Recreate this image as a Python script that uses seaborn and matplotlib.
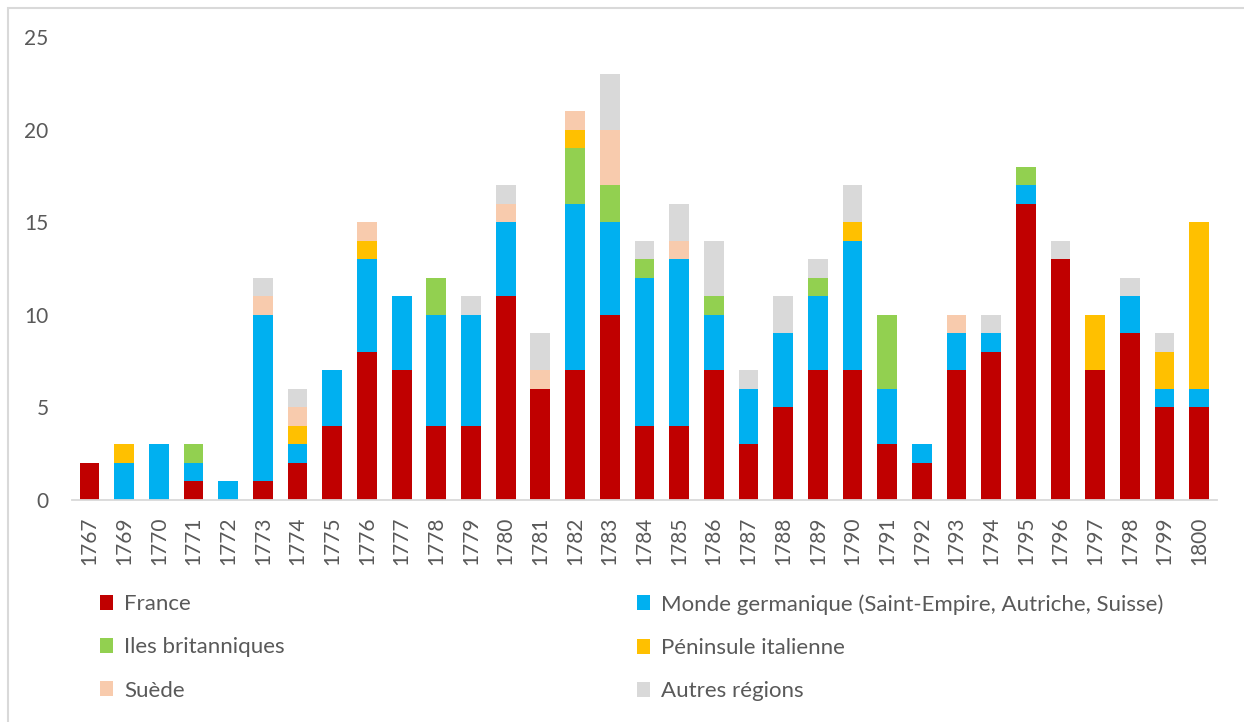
import matplotlib
matplotlib.use("Agg")
import matplotlib.pyplot as plt
from matplotlib.patches import Patch, Rectangle
import seaborn as sns
import pandas as pd
import numpy as np

# Data
years = ["1767", "1769", "1770", "1771", "1772", "1773", "1774", "1775", "1776",
         "1777", "1778", "1779", "1780", "1781", "1782", "1783", "1784", "1785",
         "1786", "1787", "1788", "1789", "1790", "1791", "1792", "1793", "1794",
         "1795", "1796", "1797", "1798", "1799", "1800"]
france      = [2, 0, 0, 1, 0, 1, 2, 4, 8, 7, 4, 4, 11, 6, 7, 10, 4, 4, 7, 3, 5, 7, 7, 3, 2, 7, 8, 16, 13, 7, 9, 5, 5]
germanique  = [0, 2, 3, 1, 1, 9, 1, 3, 5, 4, 6, 6, 4, 0, 9, 5, 8, 9, 3, 3, 4, 4, 7, 3, 1, 2, 1, 1, 0, 0, 2, 1, 1]
britanniques = [0, 0, 0, 1, 0, 0, 0, 0, 0, 0, 2, 0, 0, 0, 3, 2, 1, 0, 1, 0, 0, 1, 0, 4, 0, 0, 0, 1, 0, 0, 0, 0, 0]
italienne   = [0, 1, 0, 0, 0, 0, 1, 0, 1, 0, 0, 0, 0, 0, 1, 0, 0, 0, 0, 0, 0, 0, 1, 0, 0, 0, 0, 0, 0, 3, 0, 2, 9]
suede       = [0, 0, 0, 0, 0, 1, 1, 0, 1, 0, 0, 0, 1, 1, 1, 3, 0, 1, 0, 0, 0, 0, 0, 0, 0, 1, 0, 0, 0, 0, 0, 0, 0]
autres      = [0, 0, 0, 0, 0, 1, 1, 0, 0, 0, 0, 1, 1, 2, 0, 3, 1, 2, 3, 1, 2, 1, 2, 0, 0, 0, 1, 0, 1, 0, 1, 1, 0]

labels = ["France", "Monde germanique (Saint-Empire, Autriche, Suisse)",
          "Iles britanniques", "Péninsule italienne", "Suède", "Autres régions"]
colors = ["#C00000", "#00B0F0", "#92D050", "#FFC000", "#F8CBAD", "#D9D9D9"]

df = pd.DataFrame({"year": years, labels[0]: france, labels[1]: germanique,
                   labels[2]: britanniques, labels[3]: italienne,
                   labels[4]: suede, labels[5]: autres})
cum = df[labels].cumsum(axis=1)

sns.set_theme(style="white")
plt.rcParams["font.family"] = ["Lato", "DejaVu Sans"]
text_col = "#595959"

fig = plt.figure(figsize=(12.44, 7.22), dpi=100)
ax = fig.add_axes([0.058, 0.3075, 0.92, 0.6413])

# stacked bars: draw cumulative totals, top layer first
for lab, col in zip(labels[::-1], colors[::-1]):
    sns.barplot(x=df["year"], y=cum[lab], color=col, width=0.57,
                linewidth=0, saturation=1, ax=ax)

ax.set_ylim(0, 25)
ax.set_yticks([0, 5, 10, 15, 20, 25])
ax.set_xlabel("")
ax.set_ylabel("")
ax.tick_params(axis="y", length=0, pad=17, labelsize=15, labelcolor=text_col)
ax.tick_params(axis="x", length=0, pad=12, labelsize=15, labelcolor=text_col, rotation=90)
for s in ["top", "right", "left"]:
    ax.spines[s].set_visible(False)
ax.spines["bottom"].set_color("#D9D9D9")
ax.spines["bottom"].set_linewidth(1.3)
ax.grid(False)

# legend in two columns, row-wise order
handles = [Patch(facecolor=c, edgecolor="none") for c in colors]
leg_kw = dict(loc="upper left", frameon=False, fontsize=16, labelcolor=text_col,
              handlelength=0.6, handleheight=0.65, handletextpad=0.5,
              labelspacing=1.05)
fig.legend(handles[0::2], labels[0::2], bbox_to_anchor=(0.0643, 0.205), **leg_kw)
fig.legend(handles[1::2], labels[1::2], bbox_to_anchor=(0.496, 0.205), **leg_kw)

# chart frame
fig.patches.append(Rectangle((8 / 1244, -0.5), 2, 1.5 - 8 / 722,
                             transform=fig.transFigure, fill=False,
                             edgecolor="#D9D9D9", linewidth=1.5))

fig.savefig("out.png", dpi=100)
